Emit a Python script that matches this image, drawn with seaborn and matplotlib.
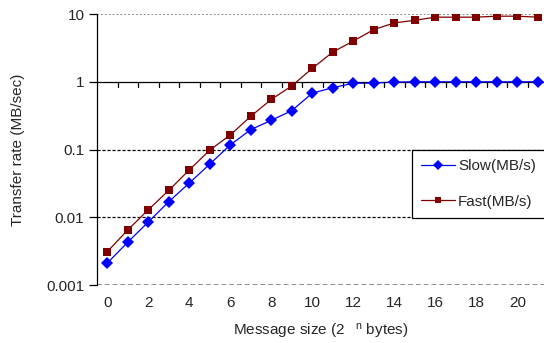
import pandas as pd
import matplotlib
matplotlib.use("Agg")
import matplotlib.pyplot as plt
import seaborn as sns
import numpy as np

# Datos
tamano_n = list(range(22))
lento = [0.0021, 0.0043, 0.0085, 0.017, 0.032, 0.061, 0.117, 0.197, 0.27, 0.376,
         0.68, 0.82, 0.95, 0.96, 0.99, 1.0, 1.0, 1.0, 1.0, 1.0, 1.0, 1.0]
rapido = [0.0031, 0.0065, 0.0129, 0.025, 0.05, 0.098, 0.164, 0.31, 0.55, 0.87,
          1.58, 2.75, 4.0, 5.9, 7.4, 8.1, 9.0, 9.0, 9.0, 9.3, 9.3, 9.0]
series = ['Slow(MB/s)', 'Fast(MB/s)']
y_ticks = [0.001, 0.01, 0.1, 1, 10]
y_labels = ['0.001', '0.01', '0.1', '1', '10']
x_ticks = list(range(0, 21, 2))

df = pd.DataFrame({
    'n': tamano_n * 2,
    'rate': lento + rapido,
    'serie': [series[0]] * len(lento) + [series[1]] * len(rapido),
})

sns.set_style("white")
plt.rcParams['font.family'] = ['Liberation Sans', 'DejaVu Sans']
plt.rcParams['mathtext.default'] = 'regular'

fs = 11

fig = plt.figure(figsize=(5.44, 3.43), dpi=100)
ax = fig.add_axes([0.1783, 0.169, 0.8217, 0.79])

ax = sns.lineplot(data=df, x='n', y='rate', hue='serie', style='serie',
                  palette={series[0]: '#0000FF', series[1]: '#800000'},
                  markers={series[0]: 'D', series[1]: 's'},
                  dashes=False, linewidth=0.9, markersize=5.5,
                  markeredgewidth=0, ax=ax, legend=False)

# Tamaño de marcador por serie
lineas_datos = ax.lines[:2]
lineas_datos[0].set_markersize(6.2)
lineas_datos[1].set_markersize(5.2)

ax.set_yscale('log')
ax.set_ylim(0.001, 10)
ax.set_xlim(-0.5, 21.3)
ax.set_yticks(y_ticks)
ax.set_yticklabels(y_labels)
ax.minorticks_off()
ax.set_xticks(x_ticks)
ax.set_xticklabels([str(t) for t in x_ticks])

# Rejilla horizontal
ax.yaxis.grid(True, linestyle=(0, (2.5, 1.5)), color='black', linewidth=0.9)
lineas = ax.get_ygridlines()
for ln, val in zip(lineas, y_ticks):
    if val in (0.001, 10):
        ln.set_color('#8c8c8c')
        ln.set_linewidth(1.4)
    if val == 10:
        ln.set_linestyle((0, (1, 1)))
    if val == 1:
        ln.set_linestyle('-')
        ln.set_color('black')

for s in ['top', 'right', 'bottom']:
    ax.spines[s].set_visible(False)
ax.spines['left'].set_color('black')
ax.spines['left'].set_linewidth(0.9)

ax.tick_params(axis='y', direction='out', length=6, width=0.9, color='black',
               labelsize=fs, pad=3, left=True)
ax.tick_params(axis='x', length=0, labelsize=fs, pad=8)

# Marcas del eje de categorías, que cruza en 1
for xt in np.arange(0.5, 21.5, 1):
    ax.plot([xt, xt], [1, 0.83], color='black', linewidth=0.9)

ax.set_xlabel('Message size (2 $^{\\ \\ n}$ bytes)', fontsize=fs)
ax.set_ylabel('Transfer rate (MB/sec)', fontsize=fs)
ax.xaxis.set_label_coords(0.5, -0.135)
ax.yaxis.set_label_coords(-0.16, 0.5)

leg = ax.legend(handles=lineas_datos, labels=series,
                loc='upper left', bbox_to_anchor=(0.705, 0.498), fontsize=fs,
                frameon=True, fancybox=False, edgecolor='black', framealpha=1,
                borderpad=0.6, labelspacing=1.4, handlelength=2.2,
                handletextpad=0.2, borderaxespad=0, markerscale=0.85)
leg.get_frame().set_linewidth(0.9)

plt.savefig('out.png', dpi=100)
plt.close()
